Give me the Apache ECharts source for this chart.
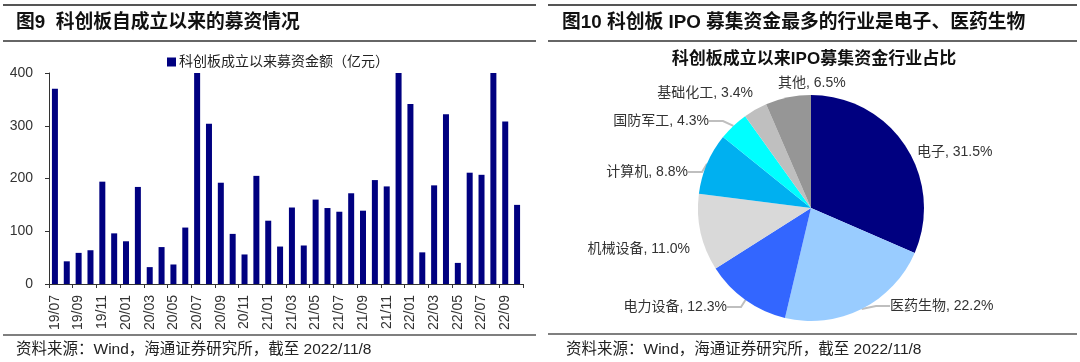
<!DOCTYPE html>
<html><head><meta charset="utf-8">
<script src="https://cdn.jsdelivr.net/npm/echarts@6/dist/echarts.min.js"></script>
<style>html,body{margin:0;padding:0;background:#fff}#c{width:1080px;height:362px}</style>
</head><body><div id="c"></div>
<script>
const months = ['19/07','19/08','19/09','19/10','19/11','19/12','20/01','20/02','20/03','20/04','20/05','20/06','20/07','20/08','20/09','20/10','20/11','20/12','21/01','21/02','21/03','21/04','21/05','21/06','21/07','21/08','21/09','21/10','21/11','21/12','22/01','22/02','22/03','22/04','22/05','22/06','22/07','22/08','22/09','22/10'];
const raised = [370,43,59,64,194,96,81,184,32,70,37,107,950,304,192,95,56,205,120,71,145,73,160,144,137,172,139,197,185,480,341,60,187,322,40,211,207,530,308,150];
const yTicks = [0,100,200,300,400];
const industries = ['电子','医药生物','电力设备','机械设备','计算机','国防军工','基础化工','其他'];
const shares = [31.5,22.2,12.3,11.0,8.8,4.3,3.4,6.5];
const pieColors = ['#000080','#99CCFF','#3366FF','#D9D9D9','#00B0F0','#00FFFF','#BFBFBF','#969696'];

const FF = "'Liberation Sans','Noto Sans CJK SC',sans-serif";
const chart = echarts.init(document.getElementById('c'), null, {renderer:'canvas'});
function hline(x1,x2,y,w,col){return {type:'line',shape:{x1:x1,y1:y,x2:x2,y2:y},style:{stroke:col,lineWidth:w}};}
// label placement (layout only)
const labelPlace = [
  {x:917,y:152,align:'left',line:false},
  {x:890,y:306,align:'left',line:true},
  {x:727,y:307,align:'right',line:true},
  {x:690,y:249,align:'right',line:false},
  {x:688,y:172,align:'right',line:true},
  {x:709,y:121,align:'right',line:true},
  {x:753,y:93,align:'right',line:false},
  {x:778,y:83,align:'left',line:false}
];
chart.setOption({
  animation:false,
  textStyle:{fontFamily:FF},
  graphic:[
    hline(3,536,5,2,'#555'), hline(3,536,41,1.5,'#333'), hline(3,536,335,1.5,'#555'),
    hline(548,1077,5,2,'#555'), hline(548,1077,41,1.5,'#333'), hline(548,1077,334,1.5,'#555'),
    {type:'text',left:16,top:13,style:{text:'图9  科创板自成立以来的募资情况',font:"bold 18.8px "+FF,fill:'#111'}},
    {type:'text',left:562,top:13,style:{text:'图10 科创板 IPO 募集资金最多的行业是电子、医药生物',font:"bold 18.8px "+FF,fill:'#111'}},
    {type:'text',x:814,y:59,style:{text:'科创板成立以来IPO募集资金行业占比',font:"bold 17px "+FF,fill:'#111',align:'center',verticalAlign:'middle'}},
    {type:'text',left:16,top:342,style:{text:'资料来源：Wind，海通证券研究所，截至 2022/11/8',font:"15.5px "+FF,fill:'#222'}},
    {type:'text',left:566,top:342,style:{text:'资料来源：Wind，海通证券研究所，截至 2022/11/8',font:"15.5px "+FF,fill:'#222'}}
  ],
  legend:{
    data:['科创板成立以来募资金额（亿元）'],
    left:162, top:50, itemWidth:9, itemHeight:9, itemGap:3,
    icon:'rect',
    textStyle:{fontSize:14,color:'#222',fontFamily:FF,padding:[0,0,0,-2]}
  },
  grid:{left:49,right:557,top:73,bottom:78,containLabel:false},
  xAxis:{
    type:'category', data:months,
    axisLine:{lineStyle:{color:'#333',width:1}},
    axisTick:{show:true,interval:1,length:4,lineStyle:{color:'#333'}},
    axisLabel:{interval:1,rotate:90,fontSize:14,color:'#333',margin:11,fontFamily:FF}
  },
  yAxis:{
    type:'value', min:yTicks[0], max:yTicks[yTicks.length-1], interval:100,
    splitLine:{show:false},
    axisLine:{show:true,lineStyle:{color:'#333'}},
    axisTick:{show:true,length:4,lineStyle:{color:'#333'}},
    axisLabel:{fontSize:14,color:'#333',margin:16,fontFamily:FF}
  },
  series:[
    {type:'bar',name:'科创板成立以来募资金额（亿元）',data:raised,barWidth:6,clip:true,
     itemStyle:{color:'#000080'}},
    {type:'pie',center:[811,208],radius:113,startAngle:90,clockwise:true,
     data:industries.map((n,i)=>({name:n,value:shares[i],itemStyle:{color:pieColors[i]},
        labelLine:{show:labelPlace[i].line}})),
     label:{show:true,position:'outside',formatter:p=>p.name+', '+p.value.toFixed(1)+'%',
            fontSize:14,color:'#333',fontFamily:FF},
     labelLine:{show:true,length:8,length2:14,lineStyle:{color:'#BFBFBF',width:2}},
     labelLayout:function(p){const L=labelPlace[p.dataIndex];return {x:L.x,y:L.y,align:L.align,verticalAlign:'middle'};},
     emphasis:{disabled:true}}
  ]
});
</script></body></html>
